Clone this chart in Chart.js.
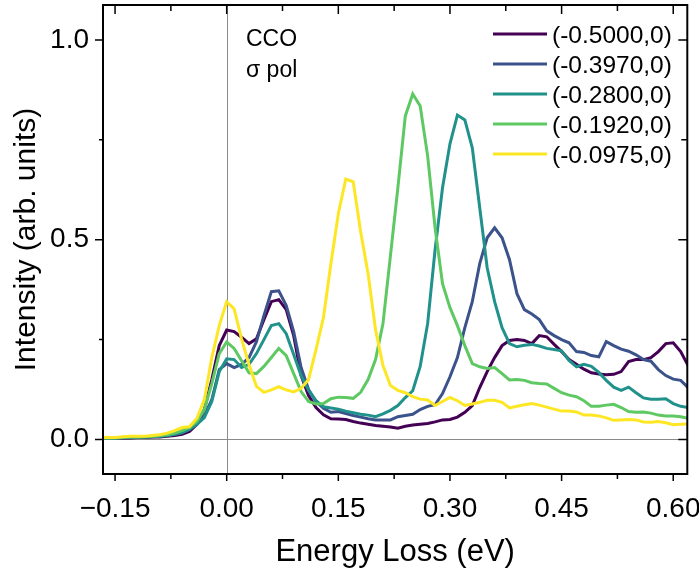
<!DOCTYPE html>
<html>
<head>
<meta charset="utf-8">
<script src="https://cdn.jsdelivr.net/npm/chart.js@4/dist/chart.umd.min.js"></script>
<style>
  html, body { margin: 0; padding: 0; background: #fff; }
</style>
</head>
<body>
<canvas id="c" width="699" height="571"></canvas>
<script>
// energy loss grid (eV)
const energy = [
  -0.17,-0.16,-0.15,-0.14,-0.13,-0.12,-0.11,-0.10,-0.09,-0.08,
  -0.07,-0.06,-0.05,-0.04,-0.03,-0.02,-0.01, 0.00, 0.01, 0.02,
   0.03, 0.04, 0.05, 0.06, 0.07, 0.08, 0.09, 0.10, 0.11, 0.12,
   0.13, 0.14, 0.15, 0.16, 0.17, 0.18, 0.19, 0.20, 0.21, 0.22,
   0.23, 0.24, 0.25, 0.26, 0.27, 0.28, 0.29, 0.30, 0.31, 0.32,
   0.33, 0.34, 0.35, 0.36, 0.37, 0.38, 0.39, 0.40, 0.41, 0.42,
   0.43, 0.44, 0.45, 0.46, 0.47, 0.48, 0.49, 0.50, 0.51, 0.52,
   0.53, 0.54, 0.55, 0.56, 0.57, 0.58, 0.59, 0.60, 0.61, 0.62
];

// intensity per momentum (-q,0)
const q0500 = [
  0.003,0.003,0.003,0.004,0.004,0.005,0.005,0.006,0.006,0.008,
  0.010,0.013,0.020,0.038,0.075,0.150,0.235,0.274,0.270,0.256,
  0.240,0.252,0.300,0.345,0.350,0.325,0.260,0.160,0.110,0.080,
  0.062,0.052,0.051,0.050,0.045,0.041,0.038,0.035,0.033,0.031,
  0.028,0.033,0.036,0.038,0.040,0.044,0.049,0.050,0.056,0.068,
  0.085,0.130,0.170,0.205,0.235,0.248,0.250,0.248,0.240,0.260,
  0.257,0.238,0.220,0.200,0.188,0.176,0.167,0.164,0.162,0.163,
  0.170,0.195,0.200,0.200,0.205,0.220,0.240,0.242,0.220,0.185
];
const q0397 = [
  0.003,0.003,0.003,0.004,0.005,0.005,0.006,0.007,0.008,0.010,
  0.013,0.018,0.027,0.042,0.060,0.100,0.175,0.190,0.180,0.188,
  0.205,0.245,0.310,0.370,0.372,0.335,0.270,0.180,0.125,0.095,
  0.078,0.068,0.070,0.065,0.060,0.056,0.052,0.049,0.049,0.049,
  0.057,0.060,0.063,0.075,0.083,0.087,0.115,0.157,0.205,0.280,
  0.345,0.440,0.505,0.530,0.505,0.450,0.365,0.325,0.314,0.300,
  0.272,0.260,0.250,0.242,0.220,0.218,0.210,0.207,0.245,0.235,
  0.226,0.221,0.212,0.200,0.196,0.175,0.160,0.151,0.148,0.130
];
const q0280 = [
  0.003,0.003,0.004,0.005,0.005,0.006,0.006,0.007,0.008,0.010,
  0.013,0.017,0.025,0.038,0.055,0.095,0.170,0.202,0.200,0.180,
  0.188,0.215,0.250,0.285,0.290,0.265,0.213,0.160,0.123,0.097,
  0.082,0.079,0.076,0.071,0.067,0.063,0.061,0.057,0.064,0.073,
  0.085,0.105,0.122,0.183,0.290,0.475,0.630,0.740,0.812,0.800,
  0.730,0.580,0.430,0.345,0.280,0.240,0.232,0.236,0.238,0.234,
  0.228,0.225,0.222,0.198,0.182,0.188,0.183,0.168,0.148,0.131,
  0.123,0.131,0.117,0.104,0.101,0.101,0.102,0.090,0.083,0.080
];
const q0192 = [
  0.004,0.004,0.004,0.005,0.006,0.006,0.007,0.008,0.010,0.012,
  0.016,0.022,0.030,0.045,0.075,0.140,0.215,0.244,0.228,0.197,
  0.167,0.165,0.183,0.205,0.228,0.210,0.165,0.120,0.095,0.089,
  0.090,0.102,0.106,0.105,0.103,0.118,0.150,0.200,0.290,0.460,
  0.630,0.810,0.865,0.835,0.710,0.530,0.390,0.330,0.285,0.235,
  0.190,0.182,0.178,0.180,0.165,0.149,0.150,0.148,0.142,0.140,
  0.139,0.128,0.117,0.111,0.107,0.097,0.083,0.083,0.086,0.088,
  0.080,0.070,0.068,0.069,0.066,0.061,0.059,0.059,0.057,0.053
];
const q0975 = [
  0.005,0.005,0.005,0.007,0.008,0.008,0.008,0.010,0.012,0.016,
  0.022,0.030,0.032,0.053,0.100,0.205,0.285,0.345,0.327,0.252,
  0.187,0.133,0.118,0.124,0.132,0.124,0.119,0.128,0.150,0.225,
  0.305,0.440,0.565,0.652,0.645,0.520,0.415,0.275,0.185,0.135,
  0.123,0.117,0.107,0.101,0.099,0.085,0.095,0.105,0.097,0.085,
  0.089,0.093,0.098,0.098,0.093,0.079,0.083,0.087,0.090,0.086,
  0.081,0.076,0.071,0.071,0.069,0.061,0.061,0.059,0.054,0.048,
  0.049,0.050,0.049,0.044,0.043,0.045,0.042,0.037,0.038,0.039
];

const seriesLabels = ['(-0.5000,0)', '(-0.3970,0)', '(-0.2800,0)', '(-0.1920,0)', '(-0.0975,0)'];
const seriesValues = [q0500, q0397, q0280, q0192, q0975];
const seriesColors = ['#440154', '#3b528b', '#21918c', '#5ec962', '#fde725'];

const xTicks = [-0.15, 0.00, 0.15, 0.30, 0.45, 0.60];
const xMinor = [-0.075, 0.075, 0.225, 0.375, 0.525];
const yTicks = [0.0, 0.5, 1.0];
const yMinor = [0.25, 0.75];

const FONT = '"Liberation Sans", Arial, sans-serif';
Chart.defaults.font.family = FONT;
Chart.defaults.color = '#000';

// no extra room for overflowing tick labels
function noPad(s) {
  s.paddingLeft = 0; s.paddingRight = 0; s.paddingTop = 0; s.paddingBottom = 0;
}

// zero lines under the curves, frame / ticks / legend on top
const framePlugin = {
  id: 'framePlugin',
  beforeDatasetsDraw(chart) {
    const {ctx, chartArea: a, scales: {x, y}} = chart;
    const x0 = Math.round(x.getPixelForValue(0)) + 0.5;
    const y0 = Math.round(y.getPixelForValue(0)) + 0.5;
    ctx.save();
    ctx.strokeStyle = '#8a8a8a';
    ctx.lineWidth = 1;
    ctx.beginPath();
    ctx.moveTo(x0, a.top); ctx.lineTo(x0, a.bottom);
    ctx.moveTo(a.left, y0); ctx.lineTo(a.right, y0);
    ctx.stroke();
    ctx.restore();
  },
  afterDatasetsDraw(chart) {
    const {ctx, chartArea: a, scales: {x, y}} = chart;
    ctx.save();
    ctx.strokeStyle = '#000';
    ctx.lineWidth = 2;
    ctx.strokeRect(a.left, a.top, a.right - a.left, a.bottom - a.top);

    ctx.lineWidth = 1.5;
    ctx.beginPath();
    const xt = (v, out, inn) => {
      const p = x.getPixelForValue(v);
      ctx.moveTo(p, a.bottom); ctx.lineTo(p, a.bottom + out);
      ctx.moveTo(p, a.top); ctx.lineTo(p, a.top + inn);
    };
    const yt = (v, out, inn) => {
      const p = y.getPixelForValue(v);
      ctx.moveTo(a.left, p); ctx.lineTo(a.left - out, p);
      ctx.moveTo(a.right, p); ctx.lineTo(a.right - inn, p);
    };
    xTicks.forEach(v => xt(v, 7, 9));
    xMinor.forEach(v => xt(v, 5, 6));
    yTicks.forEach(v => yt(v, 8, 9));
    yMinor.forEach(v => yt(v, 4, 6));
    ctx.stroke();

    // legend
    ctx.font = '24.5px ' + FONT;
    ctx.textBaseline = 'middle';
    ctx.textAlign = 'left';
    chart.data.datasets.forEach((ds, i) => {
      const ly = 34 + i * 30;
      ctx.strokeStyle = ds.borderColor;
      ctx.lineWidth = 3;
      ctx.beginPath();
      ctx.moveTo(493, ly); ctx.lineTo(547, ly);
      ctx.stroke();
      ctx.fillStyle = '#000';
      ctx.fillText(ds.label, 552, ly + 2);
    });

    ctx.font = '23px ' + FONT;
    ctx.textBaseline = 'alphabetic';
    ctx.fillText('CCO', 246, 46);
    ctx.fillText('σ pol', 246, 77);
    ctx.restore();
  }
};

new Chart(document.getElementById('c'), {
  type: 'line',
  data: {
    datasets: seriesValues.map((vals, i) => ({
      label: seriesLabels[i],
      data: energy.map((e, k) => ({x: e, y: vals[k]})),
      borderColor: seriesColors[i],
      borderWidth: 3,
      pointRadius: 0,
      tension: 0,
      fill: false,
      order: seriesValues.length - i
    }))
  },
  options: {
    responsive: false,
    devicePixelRatio: 1,
    animation: false,
    layout: { padding: { left: 0, right: 11.7, top: 5, bottom: 0 } },
    plugins: { legend: { display: false }, tooltip: { enabled: false } },
    scales: {
      x: {
        type: 'linear',
        min: -0.1662,
        max: 0.6189,
        afterBuildTicks: s => { s.ticks = xTicks.map(v => ({value: v})); },
        afterFit: s => { s.height = 97; noPad(s); },
        grid: { display: false, drawTicks: false },
        border: { display: false },
        ticks: {
          font: { size: 28 },
          color: '#000',
          padding: 18,
          maxRotation: 0,
          autoSkip: false,
          callback: v => (v < 0 ? '\u2212' : '') + Math.abs(v).toFixed(2)
        },
        title: {
          display: true,
          text: 'Energy Loss (eV)',
          font: { size: 31 },
          color: '#000',
          padding: { top: 0, bottom: 0 }
        }
      },
      y: {
        type: 'linear',
        min: -0.0864,
        max: 1.0876,
        afterBuildTicks: s => { s.ticks = yTicks.map(v => ({value: v})); },
        afterFit: s => { s.width = 103; noPad(s); },
        grid: { display: false, drawTicks: false },
        border: { display: false },
        ticks: {
          font: { size: 28 },
          color: '#000',
          padding: 14,
          callback: v => v.toFixed(1)
        },
        title: {
          display: true,
          text: 'Intensity (arb. units)',
          font: { size: 30 },
          color: '#000',
          padding: { top: 9, bottom: 0 }
        }
      }
    }
  },
  plugins: [framePlugin]
});
</script>
</body>
</html>
